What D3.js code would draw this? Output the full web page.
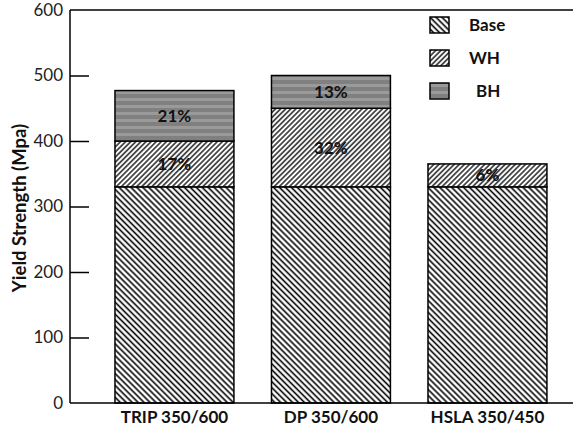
<!DOCTYPE html>
<html><head><meta charset="utf-8">
<script src="https://cdn.jsdelivr.net/npm/d3@7"></script>
<style>body{margin:0;background:#fff}svg{display:block}</style>
</head><body>
<svg id="c" width="573" height="430"></svg>
<script>
const categories = ["TRIP 350/600", "DP 350/600", "HSLA 350/450"];
const baseValues = [330, 330, 330];
const whValues = [70, 120, 35];
const bhValues = [77, 50, 0];
const pctWH = ["17%", "32%", "6%"];
const pctBH = ["21%", "13%", ""];
const yTicks = [0, 100, 200, 300, 400, 500, 600];
const seriesNames = ["Base", "WH", "BH"];

(function () {
const svg = d3.select("#c");
const pL = 70, pR = 573, pT = 10, pB = 403;
const font = "Lato, 'Open Sans', sans-serif";

const defs = svg.append("defs");
function hatch(id, angle, gap, sw) {
  const p = defs.append("pattern").attr("id", id).attr("patternUnits", "userSpaceOnUse")
    .attr("width", gap).attr("height", gap).attr("patternTransform", `rotate(${angle})`);
  p.append("rect").attr("width", gap).attr("height", gap).attr("fill", "#fff");
  p.append("line").attr("x1", gap/2).attr("y1", 0).attr("x2", gap/2).attr("y2", gap)
    .attr("stroke", "#000").attr("stroke-width", sw);
}
hatch("pBase", -45, 4.2, 1.6);
hatch("pWH", 45, 3.6, 1.3);
const pb = defs.append("pattern").attr("id", "pBH").attr("patternUnits", "userSpaceOnUse")
  .attr("width", 8).attr("height", 7);
pb.append("rect").attr("width", 8).attr("height", 7).attr("fill", "#808080");
pb.append("rect").attr("y", 0).attr("width", 8).attr("height", 3).attr("fill", "#9a9a9a");
const fills = ["url(#pBase)", "url(#pWH)", "url(#pBH)"];

const y = d3.scaleLinear().domain([0, 600]).range([pB, pT]);
const x = d3.scaleBand().domain(categories).range([pL, pR])
  .paddingInner(0.24).paddingOuter(0.227).align(0.633);

const stackData = categories.map((c, i) => ({cat: c, Base: baseValues[i], WH: whValues[i], BH: bhValues[i]}));
const stack = d3.stack().keys(seriesNames)(stackData);

stack.forEach((layer, k) => {
  svg.append("g").selectAll("rect").data(layer.filter(d => d[1] > d[0])).join("rect")
    .attr("x", d => x(d.data.cat)).attr("width", x.bandwidth())
    .attr("y", d => y(d[1])).attr("height", d => y(d[0]) - y(d[1]))
    .attr("fill", fills[k]).attr("stroke", "#000").attr("stroke-width", 1.5);
});

const lbl = svg.append("g").attr("font-family", font).attr("font-weight", "bold")
  .attr("font-size", 17).attr("fill", "#111").attr("text-anchor", "middle");
[[1, pctWH], [2, pctBH]].forEach(([k, arr]) => {
  stack[k].forEach((d, i) => {
    if (!arr[i]) return;
    lbl.append("text").attr("x", x(d.data.cat) + x.bandwidth()/2)
      .attr("y", (y(d[0]) + y(d[1]))/2).attr("dy", "0.35em").text(arr[i]);
  });
});

const ya = svg.append("g").attr("transform", `translate(${pL},0)`)
  .call(d3.axisRight(y).tickValues(yTicks).tickSize(19).tickFormat(""));
ya.select(".domain").remove();
ya.selectAll(".tick line").attr("stroke", "#000").attr("stroke-width", 1.5)
  .filter(d => d === 0 || d === 600).remove();
svg.append("g").attr("font-family", font).attr("font-size", 17).attr("fill", "#222")
  .attr("text-anchor", "end").selectAll("text").data(yTicks).join("text")
  .attr("x", pL - 7).attr("y", d => y(d)).attr("dy", "0.35em").text(d => d);

svg.append("line").attr("x1", pL).attr("x2", pL).attr("y1", pT).attr("y2", pB)
  .attr("stroke", "#000").attr("stroke-width", 1.5);
svg.append("line").attr("x1", pL).attr("x2", pR).attr("y1", pT).attr("y2", pT)
  .attr("stroke", "#000").attr("stroke-width", 1.5);
svg.append("line").attr("x1", pL).attr("x2", pR).attr("y1", pB).attr("y2", pB)
  .attr("stroke", "#000").attr("stroke-width", 1.5);

const xa = svg.append("g").attr("transform", `translate(0,${pB})`)
  .call(d3.axisBottom(x).tickSize(0).tickPadding(8));
xa.select(".domain").remove();
xa.selectAll("text").attr("font-family", font).attr("font-weight", "bold")
  .attr("font-size", 17).attr("fill", "#111");

svg.append("text").attr("transform", `translate(20,208) rotate(-90)`)
  .attr("text-anchor", "middle").attr("dy", "0.35em").attr("font-family", font).attr("font-weight", "bold")
  .attr("font-size", 18.5).attr("fill", "#111").text("Yield Strength (Mpa)");

const legY = [17, 50, 83];
const legTX = [469, 469, 476];
const lg = svg.append("g");
seriesNames.forEach((n, i) => {
  lg.append("rect").attr("x", 430).attr("y", legY[i]).attr("width", 19).attr("height", 16)
    .attr("fill", fills[i]).attr("stroke", "#000").attr("stroke-width", 1.5);
  lg.append("text").attr("x", legTX[i]).attr("y", legY[i] + 8).attr("dy", "0.35em")
    .attr("font-family", font).attr("font-weight", "bold").attr("font-size", 17)
    .attr("fill", "#111").text(n);
});
})();
</script>
</body></html>
